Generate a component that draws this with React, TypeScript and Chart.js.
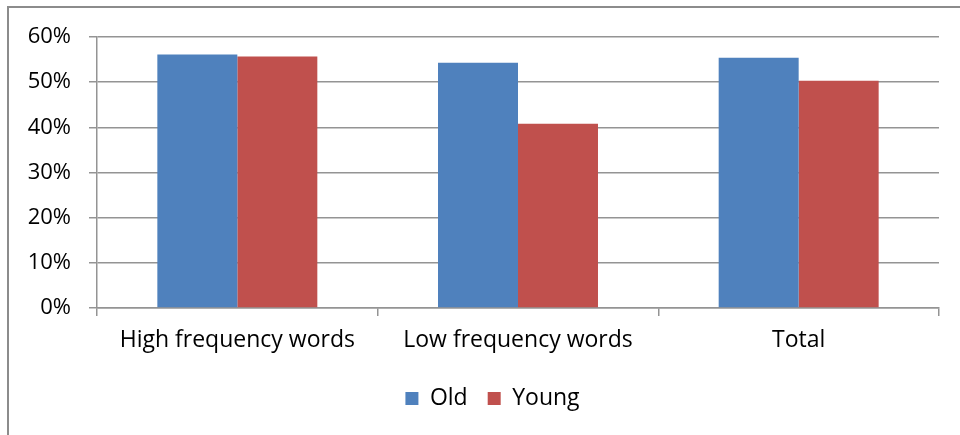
import React, { useEffect, useRef } from "react";
import { Chart, registerables } from "chart.js";

Chart.register(...registerables);

const categories = ["High frequency words", "Low frequency words", "Total"];
const oldValues = [56.1, 54.3, 55.4];
const youngValues = [55.7, 40.8, 50.3];
const yTicks = [0, 10, 20, 30, 40, 50, 60];

const FONT = "Open Sans";
const GRID = "#949494";

const borderPlugin = {
  id: "outerBorder",
  beforeDraw(chart: any) {
    const ctx = chart.ctx;
    ctx.save();
    ctx.strokeStyle = "#8c8c8c";
    ctx.lineWidth = 2;
    ctx.beginPath();
    ctx.moveTo(8, 435);
    ctx.lineTo(8, 7);
    ctx.lineTo(960, 7);
    ctx.stroke();
    ctx.restore();
  },
};

const legendShift = {
  id: "legendShift",
  afterLayout(chart: any) {
    if (chart.legend) {
      chart.legend.left = 46;
    }
  },
};

export default function App() {
  const ref = useRef<HTMLCanvasElement | null>(null);
  useEffect(() => {
    if (!ref.current) return;
    const chart = new Chart(ref.current, {
      type: "bar",
      data: {
        labels: categories,
        datasets: [
          { label: "Old", data: oldValues, backgroundColor: "#4F81BD", borderWidth: 0 },
          { label: "Young", data: youngValues, backgroundColor: "#C0504D", borderWidth: 0 },
        ],
      },
      options: {
        animation: false,
        responsive: false,
        maintainAspectRatio: false,
        layout: { padding: { left: 0, right: 21, top: 37, bottom: 15 } },
        datasets: { bar: { categoryPercentage: 0.57, barPercentage: 1.0 } },
        plugins: {
          tooltip: { enabled: false },
          legend: {
            position: "bottom",
            labels: {
              boxWidth: 13,
              boxHeight: 13,
              padding: 20,
              color: "#000",
              font: { family: FONT, size: 23 },
            },
          },
        },
        scales: {
          x: {
            grid: {
              drawOnChartArea: false,
              drawTicks: true,
              tickLength: 8,
              offset: true,
              color: GRID,
              lineWidth: 1.5,
            },
            border: { display: true, color: GRID, width: 1.5 },
            ticks: { color: "#000", padding: 11, font: { family: FONT, size: 23 }, maxRotation: 0 },
            afterFit(scale: any) {
              scale.height = 59;
            },
          },
          y: {
            min: 0,
            max: 60,
            afterBuildTicks(scale: any) {
              scale.ticks = yTicks.map((v) => ({ value: v }));
            },
            grid: { color: GRID, lineWidth: 1.5, tickLength: 8, drawTicks: true },
            border: { display: true, color: GRID, width: 1.5 },
            ticks: {
              color: "#000",
              padding: 18,
              font: { family: FONT, size: 22 },
              callback: (v: any) => v + "%",
            },
            afterFit(scale: any) {
              scale.width = 97;
            },
          },
        },
      },
      plugins: [borderPlugin, legendShift],
    });
    return () => chart.destroy();
  }, []);
  return (
    <div style={{ position: "fixed", left: 0, top: 0, width: 960, height: 435, background: "#fff" }}>
      <canvas ref={ref} width={960} height={435} style={{ display: "block" }} />
    </div>
  );
}
